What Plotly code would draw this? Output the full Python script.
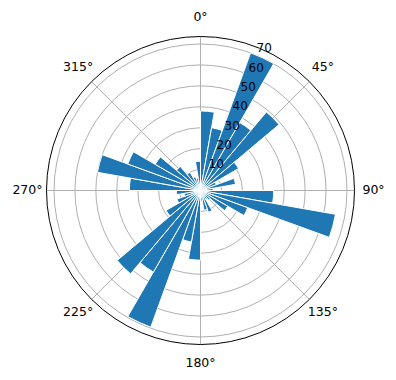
import plotly.graph_objects as go

directions = [5, 15, 25, 35, 45, 55, 65, 75, 85, 95, 105, 115, 125, 135, 145, 155, 165, 175,
              185, 195, 205, 215, 225, 235, 245, 255, 265, 275, 285, 295, 305, 315, 325, 335, 345, 355]
counts = [38, 30.5, 70, 37.5, 49, 21, 8, 17, 6, 35, 65.5, 24, 15, 6, 5, 11, 9.5, 5,
          33.3, 25, 69.5, 45, 52, 19, 12, 8, 11.5, 34, 50, 37, 25, 15, 10, 7, 6, 14]
angle_ticks = [0, 45, 90, 135, 180, 225, 270, 315]
angle_labels = [f"{a}°" for a in angle_ticks]
r_ticks = [10, 20, 30, 40, 50, 60, 70]
r_labels = [str(v) for v in r_ticks]
r_max = 73.6
r_label_angle = 22.5
theta_label_r = 82.7

fig = go.Figure()
fig.add_trace(go.Barpolar(
    r=counts, theta=directions, width=[10] * len(directions),
    marker=dict(color="#1f77b4", line=dict(color="white", width=1)),
    hoverinfo="skip", subplot="polar",
))
# radial tick labels
fig.add_trace(go.Scatterpolar(
    r=r_ticks, theta=[r_label_angle] * len(r_ticks), mode="text", text=r_labels,
    textposition="top right", textfont=dict(size=12, color="black", family="DejaVu Sans"),
    cliponaxis=False, hoverinfo="skip", subplot="polar",
))
# angular tick labels (on an invisible, wider polar frame sharing the same centre and scale)
fig.add_trace(go.Scatterpolar(
    r=[theta_label_r] * len(angle_ticks), theta=angle_ticks, mode="text", text=angle_labels,
    textposition="middle center", textfont=dict(size=12.5, color="black", family="DejaVu Sans"),
    cliponaxis=False, hoverinfo="skip", subplot="polar2",
))

W, H = 396, 380
cx, cy, R = 200.5, 190.5, 154
R2 = 180
r_max2 = r_max * R2 / R
fig.update_layout(
    width=W, height=H, margin=dict(l=0, r=0, t=0, b=0),
    paper_bgcolor="white", showlegend=False,
    font=dict(family="DejaVu Sans", size=12, color="black"),
    polar=dict(
        domain=dict(x=[(cx - R) / W, (cx + R) / W], y=[(H - cy - R) / H, (H - cy + R) / H]),
        bgcolor="white",
        bargap=0,
        angularaxis=dict(rotation=90, direction="clockwise", tickvals=angle_ticks, showticklabels=False,
                         showline=True, linecolor="black", linewidth=1, gridcolor="#b0b0b0", gridwidth=0.8,
                         ticks=""),
        radialaxis=dict(range=[0, r_max], tickvals=r_ticks, showline=False, gridcolor="#b0b0b0", gridwidth=0.8,
                        ticks="", showticklabels=False, angle=90 - r_label_angle),
    ),
    polar2=dict(
        domain=dict(x=[(cx - R2) / W, (cx + R2) / W], y=[(H - cy - R2) / H, (H - cy + R2) / H]),
        bgcolor="rgba(0,0,0,0)",
        angularaxis=dict(rotation=90, direction="clockwise", showticklabels=False, showline=False,
                         showgrid=False, ticks=""),
        radialaxis=dict(range=[0, r_max2], showticklabels=False, showline=False, showgrid=False, ticks=""),
    ),
)
fig.write_html("out.html")
